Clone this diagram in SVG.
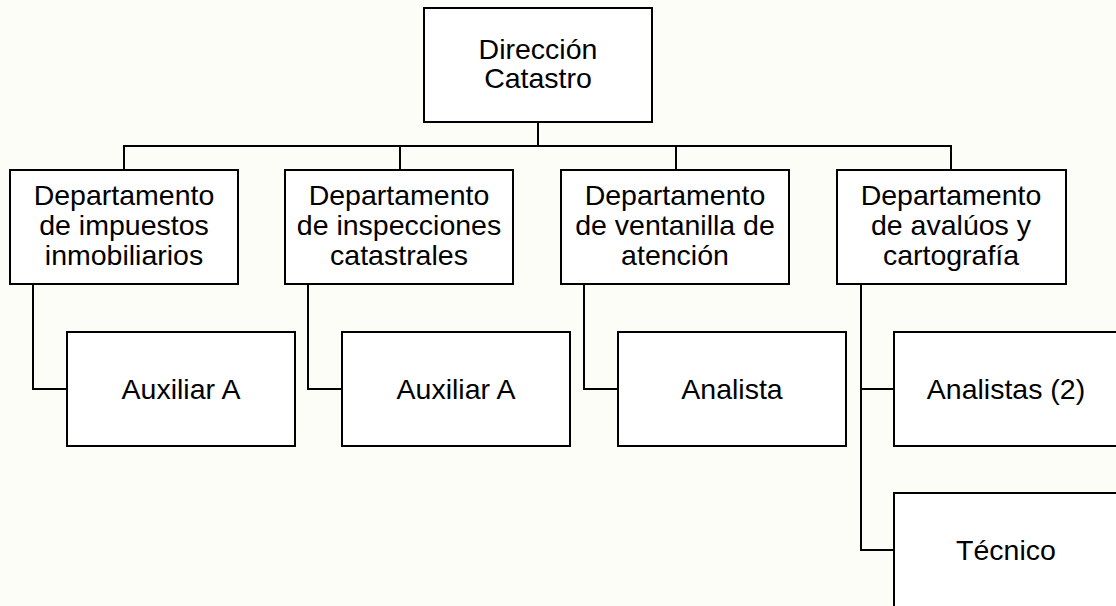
<svg xmlns="http://www.w3.org/2000/svg" width="1116" height="606" viewBox="0 0 1116 606">
<style>
.box{fill:#ffffff;stroke:#000000;stroke-width:2}
.ln{fill:none;stroke:#000000;stroke-width:2}
text{font-family:"Liberation Sans",Arial,sans-serif;font-size:28.5px;fill:#000000;text-anchor:middle}
</style>
<rect x="0" y="0" width="1116" height="606" fill="#fdfdf8"/>
<g id="connectors">
<path class="ln" d="M538 122V146M124 170V146H951V170M400 146V170M676 146V170"/>
<path class="ln" d="M33 284V389H67"/>
<path class="ln" d="M308 284V389H342"/>
<path class="ln" d="M584 284V389H618"/>
<path class="ln" d="M861 284V550H894M861 389H894"/>
</g>
<g id="direccion">
<rect class="box" x="424" y="8" width="228" height="114"/>
<text x="538" y="59">Dirección</text>
<text x="538" y="88">Catastro</text>
</g>
<g id="dep-impuestos">
<rect class="box" x="10" y="170" width="228" height="114"/>
<text x="124" y="205">Departamento</text>
<text x="124" y="235">de impuestos</text>
<text x="124" y="265">inmobiliarios</text>
</g>
<g id="dep-inspecciones">
<rect class="box" x="285" y="170" width="228" height="114"/>
<text x="399" y="205">Departamento</text>
<text x="399" y="235">de inspecciones</text>
<text x="399" y="265">catastrales</text>
</g>
<g id="dep-ventanilla">
<rect class="box" x="561" y="170" width="228" height="114"/>
<text x="675" y="205">Departamento</text>
<text x="675" y="235">de ventanilla de</text>
<text x="675" y="265">atención</text>
</g>
<g id="dep-avaluos">
<rect class="box" x="837" y="170" width="229" height="114"/>
<text x="951" y="205">Departamento</text>
<text x="951" y="235">de avalúos y</text>
<text x="951" y="265">cartografía</text>
</g>
<g id="auxiliar-1">
<rect class="box" x="67" y="332" width="228" height="114"/>
<text x="181" y="399">Auxiliar A</text>
</g>
<g id="auxiliar-2">
<rect class="box" x="342" y="332" width="228" height="114"/>
<text x="456" y="399">Auxiliar A</text>
</g>
<g id="analista">
<rect class="box" x="618" y="332" width="228" height="114"/>
<text x="732" y="399">Analista</text>
</g>
<g id="analistas">
<rect class="box" x="894" y="332" width="228" height="114"/>
<text x="1006" y="399">Analistas (2)</text>
</g>
<g id="tecnico">
<rect class="box" x="894" y="493" width="228" height="130"/>
<text x="1006" y="560">Técnico</text>
</g>
</svg>
